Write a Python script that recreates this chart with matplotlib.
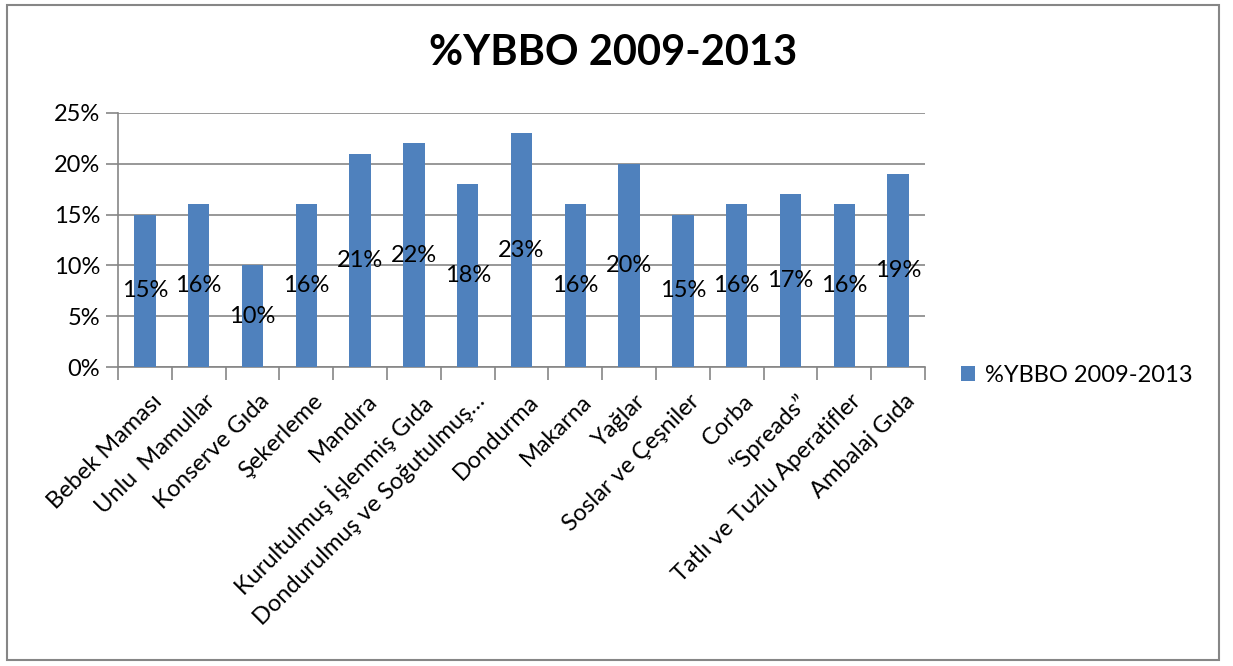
import matplotlib.pyplot as plt
from matplotlib.patches import Rectangle
from matplotlib.ticker import PercentFormatter
from matplotlib.transforms import ScaledTranslation
import numpy as np

# Datos
kategoriler = ["Bebek Maması", "Unlu  Mamullar", "Konserve Gıda", "Şekerleme",
               "Mandıra", "Kurultulmuş İşlenmiş Gıda", "Dondurulmuş ve Soğutulmuş…",
               "Dondurma", "Makarna", "Yağlar", "Soslar ve Çeşniler", "Corba",
               "“Spreads”", "Tatlı ve Tuzlu Aperatifler", "Ambalaj Gıda"]
degerler = [15, 16, 10, 16, 21, 22, 18, 23, 16, 20, 15, 16, 17, 16, 19]
seri_adi = "%YBBO 2009-2013"
y_ticks = [0, 5, 10, 15, 20, 25]

plt.rcParams['font.family'] = ['Lato', 'DejaVu Sans']

fig = plt.figure(figsize=(12.33, 6.66), dpi=100)
ax = fig.add_axes([118 / 1233, 1 - 367 / 666, (925 - 118) / 1233, (367 - 113) / 666])

x = np.arange(len(kategoriler))
barlar = ax.bar(x, degerler, width=0.4, color="#4F81BD", label=seri_adi, zorder=3)

for xi, v in zip(x, degerler):
    ax.text(xi, v / 2, f"{v}%", ha="center", va="center", fontsize=17, zorder=4)

ax.set_xlim(-0.5, len(kategoriler) - 0.5)
ax.set_ylim(0, 25)
ax.set_yticks(y_ticks)
ax.yaxis.set_major_formatter(PercentFormatter(decimals=0))
ax.grid(axis="y", color="#868686", linewidth=1.2, zorder=0)

ax.set_xticks(x)
ax.set_xticklabels(kategoriler, rotation=45, ha="right", rotation_mode="anchor")
ax.set_xticks(np.arange(-0.5, len(kategoriler)), minor=True)
ax.tick_params(axis="x", which="major", length=0, labelsize=17, pad=17)
ax.tick_params(axis="x", which="minor", length=9, color="#868686", width=1.2)
ax.tick_params(axis="y", length=9, color="#868686", width=1.2, labelsize=17, pad=4)

# etiketleri biraz sağa kaydır
kaydir = ScaledTranslation(6 / 100, 0, fig.dpi_scale_trans)
for lbl in ax.get_xticklabels():
    lbl.set_transform(lbl.get_transform() + kaydir)

for s in ["top", "right"]:
    ax.spines[s].set_visible(False)
for s in ["left", "bottom"]:
    ax.spines[s].set_color("#868686")
    ax.spines[s].set_linewidth(1.2)

fig.text(613 / 1233, 1 - 53 / 666, "%YBBO 2009-2013", ha="center", va="center",
         fontsize=30, fontweight="bold")

fig.legend(handles=[barlar], labels=[seri_adi], loc="center left",
           bbox_to_anchor=(940 / 1233, 1 - 375 / 666), frameon=False,
           fontsize=17, handlelength=0.6, handleheight=0.6, handletextpad=0.4)

fig.patches.append(Rectangle((7 / 1233, 1 - 660 / 666), (1219 - 7) / 1233, (660 - 5) / 666,
                             transform=fig.transFigure, fill=False,
                             edgecolor="#868686", linewidth=1.5))

fig.savefig("out.png", dpi=100)
